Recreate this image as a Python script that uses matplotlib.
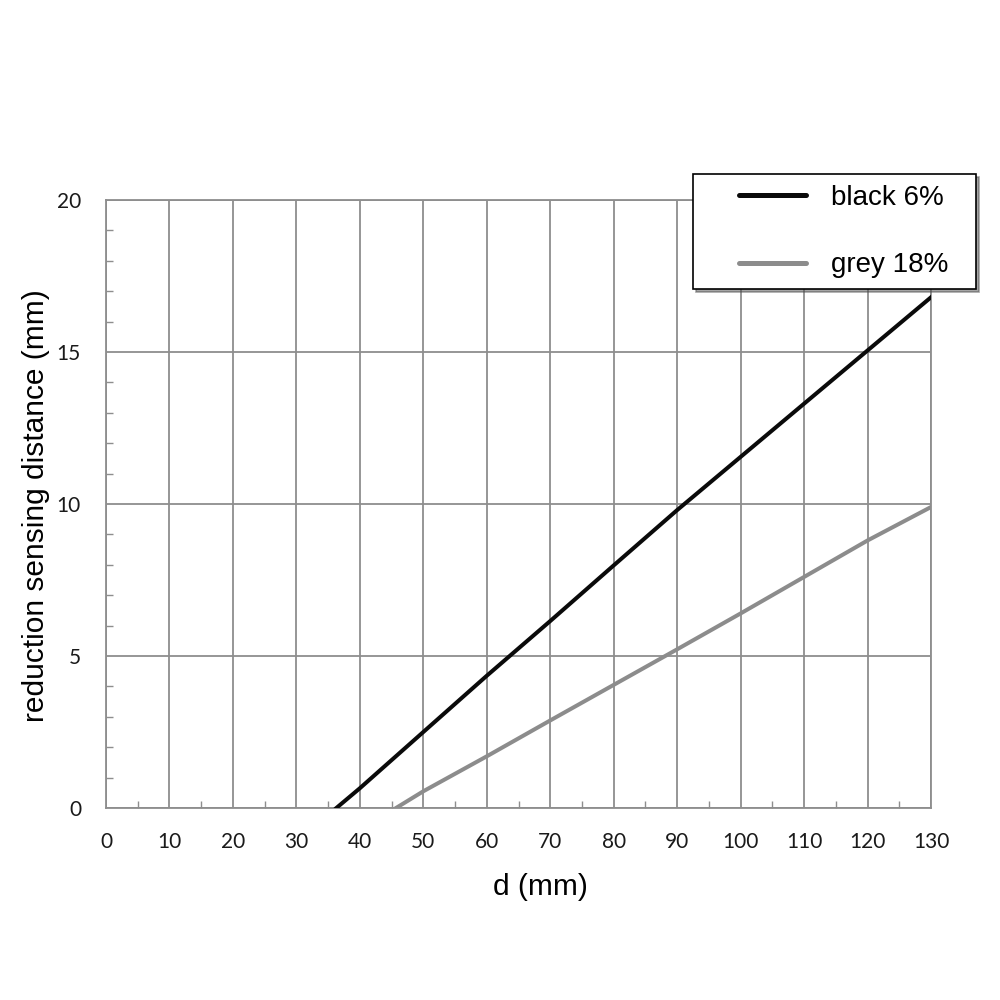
import matplotlib
matplotlib.use('Agg')
import matplotlib.pyplot as plt
from matplotlib.ticker import MultipleLocator
from matplotlib.legend_handler import HandlerLine2D

# values
d_black = [36.3, 40, 50, 60, 70, 80, 90, 100, 110, 120, 130]
red_black = [0.0, 0.65, 2.5, 4.35, 6.15, 7.98, 9.8, 11.55, 13.3, 15.05, 16.8]
d_grey = [45.7, 50, 60, 70, 80, 90, 100, 110, 120, 130]
red_grey = [0.0, 0.55, 1.7, 2.88, 4.05, 5.22, 6.4, 7.6, 8.8, 9.9]
labels = ['black 6%', 'grey 18%']

grid_col = '#8e8e8e'

fig = plt.figure(figsize=(10, 10), dpi=100)
ax = fig.add_axes([0.106, 0.192, 0.825, 0.608])

l1, = ax.plot(d_black, red_black, color='#0a0a0a', linewidth=2.9, zorder=3)
l2, = ax.plot(d_grey, red_grey, color='#8c8c8c', linewidth=2.9, zorder=3)

ax.set_xlim(0, 130)
ax.set_ylim(0, 20)
ax.xaxis.set_major_locator(MultipleLocator(10))
ax.yaxis.set_major_locator(MultipleLocator(5))
ax.xaxis.set_minor_locator(MultipleLocator(5))
ax.yaxis.set_minor_locator(MultipleLocator(1))
ax.grid(which='major', color=grid_col, linewidth=1.3)
ax.set_axisbelow(True)
for s in ax.spines.values():
    s.set_color(grid_col)
    s.set_linewidth(1.3)
ax.tick_params(which='major', length=0, labelsize=15, labelcolor='#1a1a1a')
ax.tick_params(axis='x', pad=17)
ax.tick_params(axis='y', pad=18)
ax.tick_params(which='minor', direction='in', length=5, color=grid_col, width=1)
for lab in ax.get_xticklabels() + ax.get_yticklabels():
    lab.set_fontfamily('Lato')

ax.set_xlabel('d (mm)', fontsize=21.5, family='Liberation Sans')
ax.set_ylabel('reduction sensing distance (mm)', fontsize=21.5, family='Liberation Sans')
ax.xaxis.set_label_coords(0.526, -0.107)
ax.yaxis.set_label_coords(-0.068, 0.498)

pad_line = HandlerLine2D(xpad=1.26)
leg = fig.legend([l1, l2], labels, loc='upper left',
                 bbox_to_anchor=(0.693, 0.713, 0.283, 0.113), mode='expand',
                 frameon=True, fancybox=False, shadow=True, edgecolor='black',
                 framealpha=1, handlelength=3.67, handletextpad=0.93, labelspacing=1.5,
                 borderpad=0.38, borderaxespad=0,
                 handler_map={l1: pad_line, l2: pad_line},
                 prop={'family': 'Liberation Sans', 'size': 20})
leg.get_frame().set_linewidth(1.2)
for h in leg.legend_handles:
    h.set_linewidth(3.6)
    h.set_solid_capstyle('round')

fig.savefig('out.png', dpi=100)
